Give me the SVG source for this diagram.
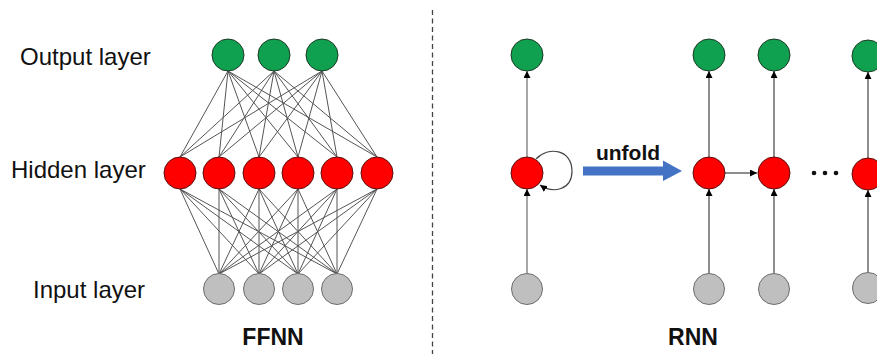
<svg xmlns="http://www.w3.org/2000/svg" width="877" height="354" viewBox="0 0 877 354">
<defs>
<marker id="ah" viewBox="0 0 10 10" refX="10" refY="5" markerWidth="7" markerHeight="7" markerUnits="userSpaceOnUse" orient="auto">
<path d="M0,0 L10,5 L0,10 z" fill="#000"/>
</marker>
<style>
.lbl{font-family:"Liberation Sans",Arial,sans-serif;font-size:24px;fill:#111}
.ttl{font-family:"Liberation Sans",Arial,sans-serif;font-size:23px;font-weight:bold;fill:#111}
.out{fill:#0FA14F;stroke:#1E3A26;stroke-width:1}
.hid{fill:#FF0000;stroke:#5A1010;stroke-width:1}
.inp{fill:#BFBFBF;stroke:#6E6E6E;stroke-width:1}
.w{stroke:#555;stroke-width:1;fill:none}
.ra{stroke:#777;stroke-width:1.3;fill:none;marker-end:url(#ah)}
.rb{stroke:#444;stroke-width:1.2;fill:none;marker-end:url(#ah)}
</style>
</defs>
<rect width="877" height="354" fill="#fff"/>
<text class="lbl" x="20" y="65">Output layer</text>
<text class="lbl" x="11" y="178">Hidden layer</text>
<text class="lbl" x="33" y="298">Input layer</text>
<line x1="432.5" y1="10" x2="432.5" y2="354" stroke="#444" stroke-width="1.3" stroke-dasharray="5,3.5"/>
<g id="connectors">
<g id="ffnn-weights">
<line class="w" x1="228" y1="71" x2="180" y2="157"/><line class="w" x1="228" y1="71" x2="219" y2="157"/><line class="w" x1="228" y1="71" x2="259" y2="157"/><line class="w" x1="228" y1="71" x2="298" y2="157"/><line class="w" x1="228" y1="71" x2="337" y2="157"/><line class="w" x1="228" y1="71" x2="377" y2="157"/>
<line class="w" x1="274" y1="71" x2="180" y2="157"/><line class="w" x1="274" y1="71" x2="219" y2="157"/><line class="w" x1="274" y1="71" x2="259" y2="157"/><line class="w" x1="274" y1="71" x2="298" y2="157"/><line class="w" x1="274" y1="71" x2="337" y2="157"/><line class="w" x1="274" y1="71" x2="377" y2="157"/>
<line class="w" x1="322" y1="71" x2="180" y2="157"/><line class="w" x1="322" y1="71" x2="219" y2="157"/><line class="w" x1="322" y1="71" x2="259" y2="157"/><line class="w" x1="322" y1="71" x2="298" y2="157"/><line class="w" x1="322" y1="71" x2="337" y2="157"/><line class="w" x1="322" y1="71" x2="377" y2="157"/>
<line class="w" x1="180" y1="189" x2="219" y2="274"/><line class="w" x1="180" y1="189" x2="259" y2="274"/><line class="w" x1="180" y1="189" x2="298" y2="274"/><line class="w" x1="180" y1="189" x2="337" y2="274"/>
<line class="w" x1="219" y1="189" x2="219" y2="274"/><line class="w" x1="219" y1="189" x2="259" y2="274"/><line class="w" x1="219" y1="189" x2="298" y2="274"/><line class="w" x1="219" y1="189" x2="337" y2="274"/>
<line class="w" x1="259" y1="189" x2="219" y2="274"/><line class="w" x1="259" y1="189" x2="259" y2="274"/><line class="w" x1="259" y1="189" x2="298" y2="274"/><line class="w" x1="259" y1="189" x2="337" y2="274"/>
<line class="w" x1="298" y1="189" x2="219" y2="274"/><line class="w" x1="298" y1="189" x2="259" y2="274"/><line class="w" x1="298" y1="189" x2="298" y2="274"/><line class="w" x1="298" y1="189" x2="337" y2="274"/>
<line class="w" x1="337" y1="189" x2="219" y2="274"/><line class="w" x1="337" y1="189" x2="259" y2="274"/><line class="w" x1="337" y1="189" x2="298" y2="274"/><line class="w" x1="337" y1="189" x2="337" y2="274"/>
<line class="w" x1="377" y1="189" x2="219" y2="274"/><line class="w" x1="377" y1="189" x2="259" y2="274"/><line class="w" x1="377" y1="189" x2="298" y2="274"/><line class="w" x1="377" y1="189" x2="337" y2="274"/>
</g>
<g id="rnn-edges">
<line class="ra" x1="527" y1="273" x2="527" y2="189"/>
<line class="ra" x1="527" y1="157" x2="527" y2="71"/>
<path class="rb" d="M536 159 C548 146 572 149 572 171 C572 190 553 194 540 185"/>
<line class="rb" x1="709" y1="273" x2="709" y2="189"/>
<line class="rb" x1="709" y1="157" x2="709" y2="71"/>
<line class="rb" x1="774" y1="273" x2="774" y2="189"/>
<line class="rb" x1="774" y1="157" x2="774" y2="71"/>
<line class="rb" x1="868" y1="272" x2="868" y2="190"/>
<line class="rb" x1="868" y1="158" x2="868" y2="72"/>
<line class="rb" x1="725" y1="173" x2="757" y2="173"/>
</g>
</g>
<g id="ffnn-output">
<circle class="out" cx="228" cy="55" r="16"/><circle class="out" cx="274" cy="55" r="16"/><circle class="out" cx="322" cy="55" r="16"/>
</g>
<g id="ffnn-hidden">
<circle class="hid" cx="180" cy="173" r="16"/><circle class="hid" cx="219" cy="173" r="16"/><circle class="hid" cx="259" cy="173" r="16"/><circle class="hid" cx="298" cy="173" r="16"/><circle class="hid" cx="337" cy="173" r="16"/><circle class="hid" cx="377" cy="173" r="16"/>
</g>
<g id="ffnn-input">
<circle class="inp" cx="219" cy="289" r="15.5"/><circle class="inp" cx="259" cy="289" r="15.5"/><circle class="inp" cx="298" cy="289" r="15.5"/><circle class="inp" cx="337" cy="289" r="15.5"/>
</g>
<text class="ttl" x="273" y="345" text-anchor="middle">FFNN</text>
<g id="rnn-folded">
<circle class="out" cx="527" cy="55" r="16"/>
<circle class="hid" cx="527" cy="173" r="16"/>
<circle class="inp" cx="527" cy="289" r="15.5"/>
</g>
<g id="unfold-arrow">
<path d="M583 166.5 H663 V160.5 L682 171 L663 181 V175.5 H583 z" fill="#4472C4"/>
<text x="628" y="160" text-anchor="middle" style="font-family:'Liberation Sans',Arial,sans-serif;font-size:21px;font-weight:bold;fill:#111">unfold</text>
</g>
<g id="rnn-t1">
<circle class="out" cx="709" cy="55" r="16"/>
<circle class="hid" cx="709" cy="173" r="16"/>
<circle class="inp" cx="709" cy="289" r="15.5"/>
</g>
<g id="rnn-t2">
<circle class="out" cx="774" cy="55" r="16"/>
<circle class="hid" cx="774" cy="173" r="16"/>
<circle class="inp" cx="774" cy="289" r="15.5"/>
</g>
<g id="dots">
<circle cx="814" cy="173" r="2.3" fill="#111"/><circle cx="825" cy="173" r="2.3" fill="#111"/><circle cx="836" cy="173" r="2.3" fill="#111"/>
</g>
<g id="rnn-tn">
<circle class="out" cx="868" cy="56" r="16"/>
<circle class="hid" cx="868" cy="174" r="16"/>
<circle class="inp" cx="868" cy="288" r="15.5"/>
</g>
<text class="ttl" x="693" y="345" text-anchor="middle">RNN</text>
</svg>
